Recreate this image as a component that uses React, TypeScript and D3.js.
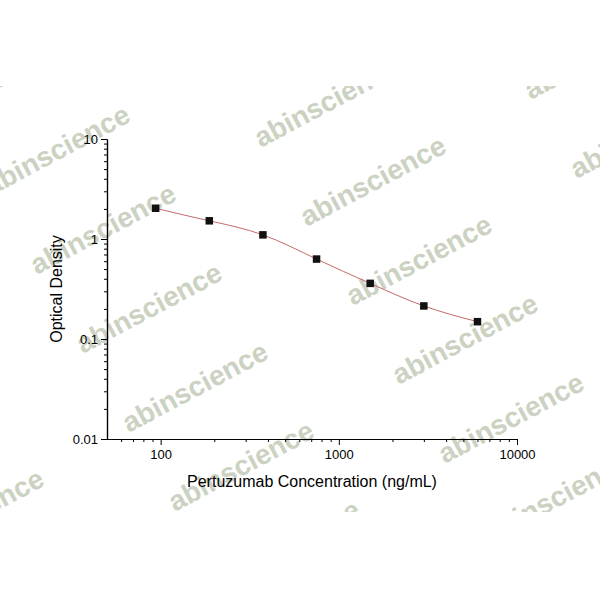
import React from 'react';
import * as d3 from 'd3';

// standard curve readings
const concentrations = [93.75, 187.5, 375, 750, 1500, 3000, 6000];
const opticalDensity = [2.03, 1.52, 1.1, 0.63, 0.36, 0.214, 0.149];

const xMajorTicks = [100, 1000, 10000];
const xTickLabels = ['100', '1000', '10000'];
const yMajorTicks = [0.01, 0.1, 1, 10];
const yTickLabels = ['0.01', '0.1', '1', '10'];

const xTitle = 'Pertuzumab Concentration (ng/mL)';
const yTitle = 'Optical Density';
const watermark = 'abinscience';

class App extends React.Component {
    svgRef = React.createRef<SVGSVGElement>();

    componentDidMount() {
        this.drawChart();
    }

    drawChart() {
        var svg = d3.select(this.svgRef.current);
        svg.selectAll('*').remove();

        var font = 'Arial, "Liberation Sans", sans-serif';

        var x = d3.scaleLog().domain([50, 10000]).range([107, 517]);
        var y = d3.scaleLog().domain([0.01, 10]).range([439, 139]);

        svg.append('rect').attr('width', 600).attr('height', 600).attr('fill', '#fff');

        // watermark band
        svg.append('clipPath').attr('id', 'wm-clip')
            .append('rect').attr('x', 0).attr('y', 86).attr('width', 600).attr('height', 426);

        var marks: number[][] = [];
        for (var j = -1; j <= 2; j++) {
            for (var i = -2; i <= 5; i++) {
                marks.push([103 + i * 46 + j * 270, 229 + i * 79 - j * 48]);
            }
        }
        svg.append('g').attr('clip-path', 'url(#wm-clip)')
            .selectAll('text')
            .data(marks)
            .enter()
            .append('text')
            .attr('transform', function(d) { return 'translate(' + d[0] + ',' + d[1] + ') rotate(-28)'; })
            .attr('text-anchor', 'middle')
            .attr('dominant-baseline', 'central')
            .style('font-family', font)
            .style('font-weight', 'bold')
            .style('font-size', '28px')
            .style('fill', '#cbd2c2')
            .text(watermark);

        // minor tick values per decade
        var xMinor: number[] = [];
        var yMinor: number[] = [];
        for (var e = 1; e <= 3; e++) {
            for (var m = 2; m <= 9; m++) {
                var v = m * Math.pow(10, e);
                if (v > 50 && v < 10000) xMinor.push(v);
            }
        }
        for (var e2 = -2; e2 <= 0; e2++) {
            for (var m2 = 2; m2 <= 9; m2++) yMinor.push(m2 * Math.pow(10, e2));
        }

        var xAxis = svg.append('g').attr('transform', 'translate(0,439)');
        xAxis.call(d3.axisBottom(x).tickValues(xMinor).tickSize(3).tickSizeOuter(0).tickFormat(() => ''));
        xAxis.append('g').call(
            d3.axisBottom(x).tickValues(xMajorTicks).tickSize(6).tickSizeOuter(0).tickPadding(5)
                .tickFormat((d, k) => xTickLabels[k])
        );

        var yAxis = svg.append('g').attr('transform', 'translate(107,0)');
        yAxis.call(d3.axisLeft(y).tickValues(yMinor).tickSize(3).tickSizeOuter(0).tickFormat(() => ''));
        yAxis.append('g').call(
            d3.axisLeft(y).tickValues(yMajorTicks).tickSize(6).tickSizeOuter(0).tickPadding(3)
                .tickFormat((d, k) => yTickLabels[k])
        );

        svg.selectAll('.domain').attr('stroke', '#000').attr('stroke-width', 1.2);
        svg.selectAll('.tick line').attr('stroke', '#000').attr('stroke-width', 1);
        svg.selectAll('.tick text')
            .attr('fill', '#000')
            .style('font-family', font)
            .style('font-size', '13px');

        // fitted curve
        var pts = concentrations.map(function(c, k) { return [c, opticalDensity[k]]; });
        var line = d3.line<number[]>()
            .x(function(d) { return x(d[0]); })
            .y(function(d) { return y(d[1]); })
            .curve(d3.curveNatural);
        svg.append('path')
            .attr('d', line(pts))
            .attr('fill', 'none')
            .attr('stroke', '#c46a6a')
            .attr('stroke-width', 1);

        // data points
        svg.append('g').selectAll('rect')
            .data(pts)
            .enter()
            .append('rect')
            .attr('x', function(d) { return x(d[0]) - 3.75; })
            .attr('y', function(d) { return y(d[1]) - 3.75; })
            .attr('width', 7.5)
            .attr('height', 7.5)
            .attr('fill', '#111');

        // axis titles
        svg.append('text')
            .attr('x', 312)
            .attr('y', 487)
            .attr('text-anchor', 'middle')
            .style('font-family', font)
            .style('font-size', '16px')
            .text(xTitle);

        svg.append('text')
            .attr('transform', 'translate(62,289) rotate(-90)')
            .attr('text-anchor', 'middle')
            .style('font-family', font)
            .style('font-size', '16px')
            .text(yTitle);
    }

    render() {
        return (
            <svg
                ref={this.svgRef}
                width={600}
                height={600}
                style={{ position: 'absolute', left: 0, top: 0 }}
            />
        );
    }
}

export default App;
